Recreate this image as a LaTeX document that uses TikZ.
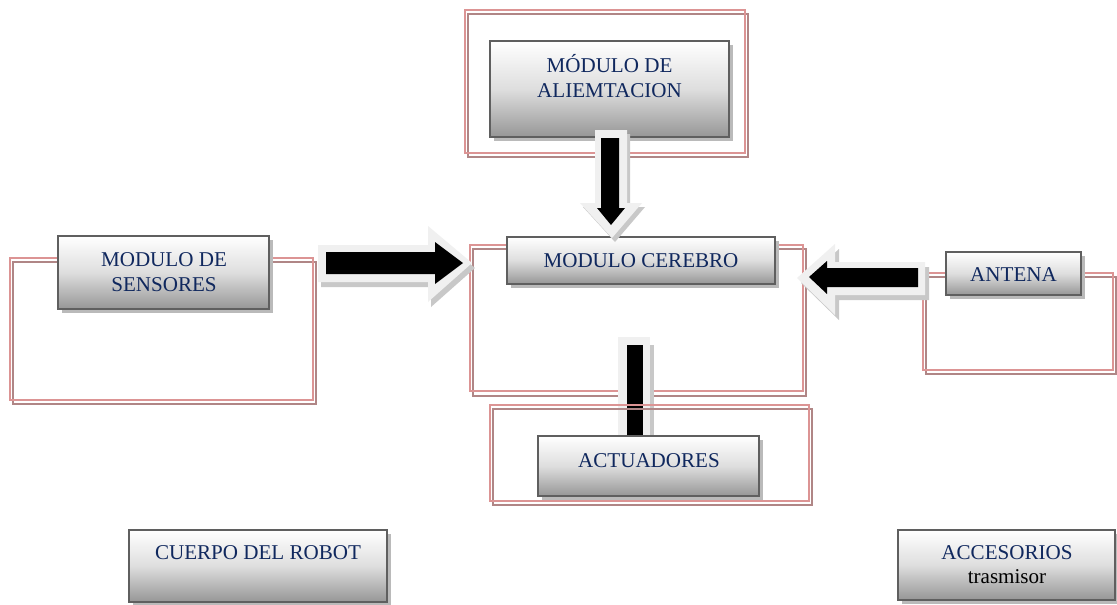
\documentclass[tikz,border=0pt]{standalone}
\usepackage{fontspec}
\setmainfont{Liberation Serif}
\usetikzlibrary{shadows}
\definecolor{navy}{RGB}{16,40,94}
\definecolor{framepink}{RGB}{220,148,148}
\definecolor{frameshade}{RGB}{176,134,134}
\definecolor{boxline}{RGB}{95,95,95}
\definecolor{boxbot}{RGB}{150,150,150}
\definecolor{boxmid}{RGB}{222,222,222}
\definecolor{lightarrow}{RGB}{240,240,240}
\definecolor{shadearrow}{RGB}{200,200,200}
\begin{document}
\begin{tikzpicture}[x=0.75pt,y=-0.75pt,
  box/.style={rectangle, draw=boxline, line width=1.9pt, top color=white, bottom color=boxbot, middle color=boxmid, inner sep=0pt,
    drop shadow={shadow xshift=3pt, shadow yshift=-3.2pt, fill=black!27, opacity=1}},
  txt/.style={font=\fontsize{15.8}{18.75}\selectfont, text=navy, align=center, inner sep=0pt},
  frame/.style={draw=framepink, line width=1.9pt},
  frameshadow/.style={draw=frameshade, line width=1.9pt},
  blockouter/.style={fill=lightarrow},
  blockinner/.style={fill=black},
  blockshadow/.style={fill=shadearrow}]
\fill[white] (0,0) rectangle (1117,604);
\useasboundingbox (0,0) rectangle (1117,604);

% frames (behind)
\draw[frameshadow] (468,14) rectangle (748,157);
\draw[frame] (465,10) rectangle (745,153);
\draw[frameshadow] (13,262) rectangle (316,404);
\draw[frame] (10,258) rectangle (313,400);
\draw[frameshadow] (473,249) rectangle (806,396);
\draw[frame] (470,245) rectangle (803,391);
\draw[frameshadow] (926,277) rectangle (1116,374);
\draw[frame] (923,273) rectangle (1113,370);

% boxes
\node[box, minimum width=179.25pt, minimum height=72pt] (alim) at (609.5,89) {};
\node[txt] (alimT) at (609.5,76.5) {MÓDULO DE\\ALIEMTACION};
\node[box, minimum width=158.25pt, minimum height=54.75pt] (sens) at (163.5,272.5) {};
\node[txt] (sensT) at (164,272) {MODULO DE\\SENSORES};
\node[box, minimum width=201pt, minimum height=35.25pt] (cere) at (641,260.5) {};
\node[txt] (cereT) at (641,261) {MODULO CEREBRO};
\node[box, minimum width=101.25pt, minimum height=32.25pt] (ant) at (1013.5,273.5) {};
\node[txt] (antT) at (1013.5,275) {ANTENA};
\node[box, minimum width=193.5pt, minimum height=54pt] (cuer) at (258,566) {};
\node[txt] (cuerT) at (258,553) {CUERPO DEL ROBOT};
\node[box, minimum width=162.75pt, minimum height=52.5pt] (acc) at (1006.5,565) {};
\node[txt] (accT) at (1007,553) {ACCESORIOS};
\node[txt, text=black] (accT2) at (1007,577) {trasmisor};

% down arrow: alimentacion -> cerebro
\fill[blockshadow, shift={(3,4)}] (595,130) -- (627,130) -- (627,203) -- (642,203) -- (612,238) -- (580,203) -- (595,203) -- cycle;
\fill[blockouter] (595,130) -- (627,130) -- (627,203) -- (642,203) -- (612,238) -- (580,203) -- (595,203) -- cycle;
\fill[blockinner] (601,138) -- (619,138) -- (619,208) -- (625,208) -- (611,225) -- (597,208) -- (601,208) -- cycle;

% right arrow: sensores -> cerebro
\fill[blockshadow, shift={(3,5)}] (318,245) -- (428,245) -- (428,226) -- (472,263) -- (428,302) -- (428,282) -- (318,282) -- cycle;
\fill[blockouter] (318,245) -- (428,245) -- (428,226) -- (472,263) -- (428,302) -- (428,282) -- (318,282) -- cycle;
\fill[blockinner] (326,252) -- (435,252) -- (435,242) -- (463,263) -- (435,284) -- (435,274) -- (326,274) -- cycle;

% left arrow: antena -> cerebro
\fill[blockshadow, shift={(4,5)}] (925,262) -- (835,262) -- (835,244) -- (797,278) -- (835,315) -- (835,295) -- (925,295) -- cycle;
\fill[blockouter] (925,262) -- (835,262) -- (835,244) -- (797,278) -- (835,315) -- (835,295) -- (925,295) -- cycle;
\fill[blockinner] (918,268) -- (827,268) -- (827,261) -- (809,277) -- (827,294) -- (827,287) -- (918,287) -- cycle;

% bar: cerebro -> actuadores
\fill[blockshadow] (622,345) rectangle (654,436);
\fill[blockouter] (618,337) rectangle (650,436);
\fill[blockinner] (627,345) rectangle (643,436);

% actuadores frame and box
\draw[frameshadow] (493,409) rectangle (812,505);
\draw[frame] (490,405) rectangle (809,501);
\node[box, minimum width=165.75pt, minimum height=45pt] (act) at (648.5,466) {};
\node[txt] (actT) at (649,461) {ACTUADORES};
\end{tikzpicture}
\end{document}
